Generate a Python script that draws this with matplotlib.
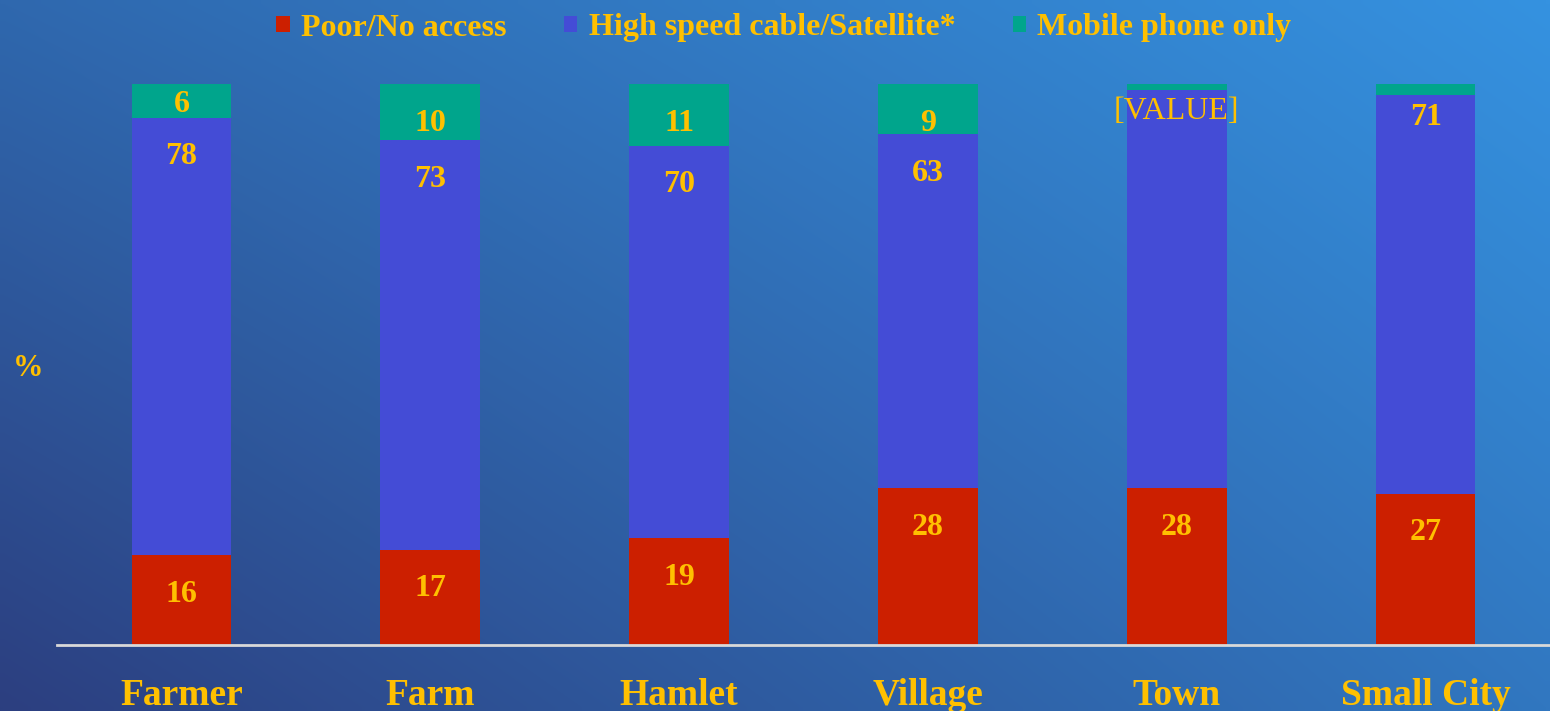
import numpy as np
import matplotlib
matplotlib.use("Agg")
import matplotlib.pyplot as plt
from matplotlib.patches import Patch
from matplotlib.colors import to_rgb

# ---- data ----
categories = ["Farmer", "Farm", "Hamlet", "Village", "Town", "Small City"]
poor_access = [16, 17, 19, 28, 28, 27]
high_speed = [78, 73, 70, 63, 71, 71]
mobile_only = [6, 10, 11, 9, 1, 2]
series_names = ["Poor/No access", "High speed cable/Satellite*", "Mobile phone only"]
# label texts (None = no label shown)
poor_labels = ["16", "17", "19", "28", "28", "27"]
high_labels = ["78", "73", "70", "63", "[VALUE]", "71"]
mobile_labels = ["6", "10", "11", "9", None, None]

# ---- style ----
RED = "#CC1F00"
BLUE = "#444CD6"
GREEN = "#00A58C"
GOLD = "#FFC000"
SERIF = "Liberation Serif"

W, H = 1550, 711
fig = plt.figure(figsize=(W / 100, H / 100), dpi=100)

# gradient background (bilinear between corner colours)
bg = fig.add_axes([0, 0, 1, 1], zorder=-10)
tl, tr = np.array(to_rgb("#2F68AE")), np.array(to_rgb("#3592E0"))
bl, br = np.array(to_rgb("#2C3F80")), np.array(to_rgb("#3177C0"))
u = np.linspace(0, 1, 200)[None, :, None]
v = np.linspace(0, 1, 100)[:, None, None]  # 0 top -> 1 bottom
img = (1 - v) * ((1 - u) * tl + u * tr) + v * ((1 - u) * bl + u * br)
bg.imshow(img, aspect="auto", extent=[0, 1, 0, 1], interpolation="bilinear")
bg.axis("off")

left = 57 / W
bottom = (H - 645) / H
top = (H - 84) / H
ax = fig.add_axes([left, bottom, 1 - left, top - bottom])
ax.set_facecolor("none")

x = np.arange(len(categories))
width = 0.4
p = np.array(poor_access, float)
h = np.array(high_speed, float)
m = np.array(mobile_only, float)

ax.bar(x, p, width, color=RED, label=series_names[0])
ax.bar(x, h, width, bottom=p, color=BLUE, label=series_names[1])
ax.bar(x, m, width, bottom=p + h, color=GREEN, label=series_names[2])

ax.set_xlim(-0.5, len(categories) - 0.5)
ax.set_ylim(0, 100)

OFF = 6.4    # label offset below segment top (in %)
NUDGE = 0.6  # optical correction for va='center'

def put(xi, bot, val, above, txt):
    if txt is None:
        return
    topv = bot + val
    if above is not None and above < 3:
        y = topv - 3.3
    else:
        y = topv - OFF
    if y < bot + 1.0:
        y = bot + val / 2
    y -= NUDGE
    bold = txt != "[VALUE]"
    ax.text(xi, y, txt, ha="center", va="center", color=GOLD,
            fontsize=23, fontweight="bold" if bold else "normal",
            family=SERIF)

for i in range(len(categories)):
    put(x[i], 0, p[i], h[i], poor_labels[i])
    put(x[i], p[i], h[i], m[i], high_labels[i])
    put(x[i], p[i] + h[i], m[i], None, mobile_labels[i])

for s in ["top", "right", "left"]:
    ax.spines[s].set_visible(False)
ax.spines["bottom"].set_color("#D9D9D9")
ax.spines["bottom"].set_linewidth(2)
ax.set_yticks([])
ax.set_xticks(x)
ax.set_xticklabels(categories, color=GOLD, fontsize=27, fontweight="bold", family=SERIF)
ax.tick_params(axis="x", length=0, pad=24)

fig.text(28 / W, 1 - 369 / H, "%", color=GOLD, fontsize=22, fontweight="bold",
         family=SERIF, ha="center", va="center")

handles = [Patch(facecolor=c) for c in (RED, BLUE, GREEN)]
leg = fig.legend(handles, series_names, loc="center", bbox_to_anchor=(784 / W, 1 - 28 / H),
                 ncol=3, frameon=False, handlelength=0.42, handleheight=0.42,
                 handletextpad=0.35, columnspacing=1.8,
                 prop={"family": SERIF, "weight": "bold", "size": 23})
for t in leg.get_texts():
    t.set_color(GOLD)

fig.savefig("out.png", dpi=100)
